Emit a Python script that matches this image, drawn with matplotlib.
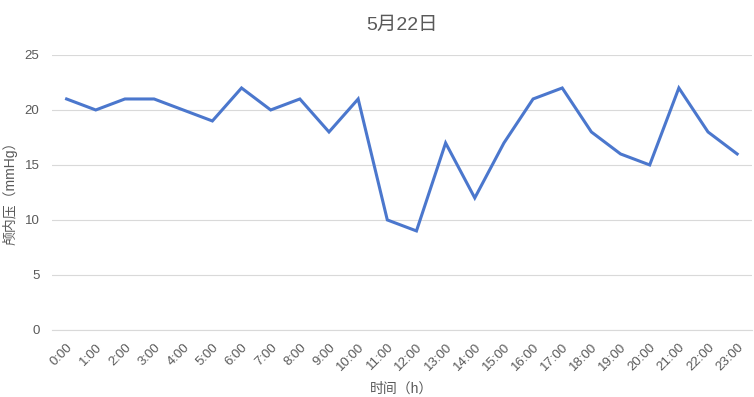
import matplotlib
matplotlib.use("Agg")
import matplotlib.pyplot as plt

plt.rcParams['font.family'] = ['Liberation Sans', 'Noto Sans CJK SC', 'DejaVu Sans']

hours = [f"{h}:00" for h in range(24)]
icp = [21, 20, 21, 21, 20, 19, 22, 20, 21, 18, 21, 10,
       9, 17, 12, 17, 21, 22, 18, 16, 15, 22, 18, 16]
y_ticks = [0, 5, 10, 15, 20, 25]

text_color = "#595959"

fig = plt.figure(figsize=(7.54, 3.97), dpi=100)
ax = fig.add_axes([0.069, 0.169, 0.928, 0.6925])

x = list(range(len(hours)))
ax.plot(x, icp, color="#4b77cd", linewidth=2.2, solid_joinstyle="miter")

ax.set_xlim(-0.5, len(hours) - 0.5)
ax.set_ylim(0, 25)
ax.set_yticks(y_ticks)
ax.set_xticks(x)
ax.set_xticklabels(hours, rotation=45, ha="right", rotation_mode="anchor")
ax.tick_params(axis="both", length=0, labelsize=9.5, colors=text_color)
ax.tick_params(axis="x", pad=8)
ax.tick_params(axis="y", pad=9)

ax.grid(axis="y", color="#d9d9d9", linewidth=0.8)
ax.set_axisbelow(True)
for side in ["top", "right", "left"]:
    ax.spines[side].set_visible(False)
ax.spines["bottom"].set_color("#d9d9d9")
ax.spines["bottom"].set_linewidth(0.8)

ax.set_title("5月22日", fontsize=14, color=text_color, pad=18)
ax.set_xlabel("时间（h）", fontsize=10, color=text_color, labelpad=6)
ax.set_ylabel("颅内压（mmHg）", fontsize=10, color=text_color)
ax.yaxis.set_label_coords(-0.049, 0.51)

fig.savefig("out.png", dpi=100)
